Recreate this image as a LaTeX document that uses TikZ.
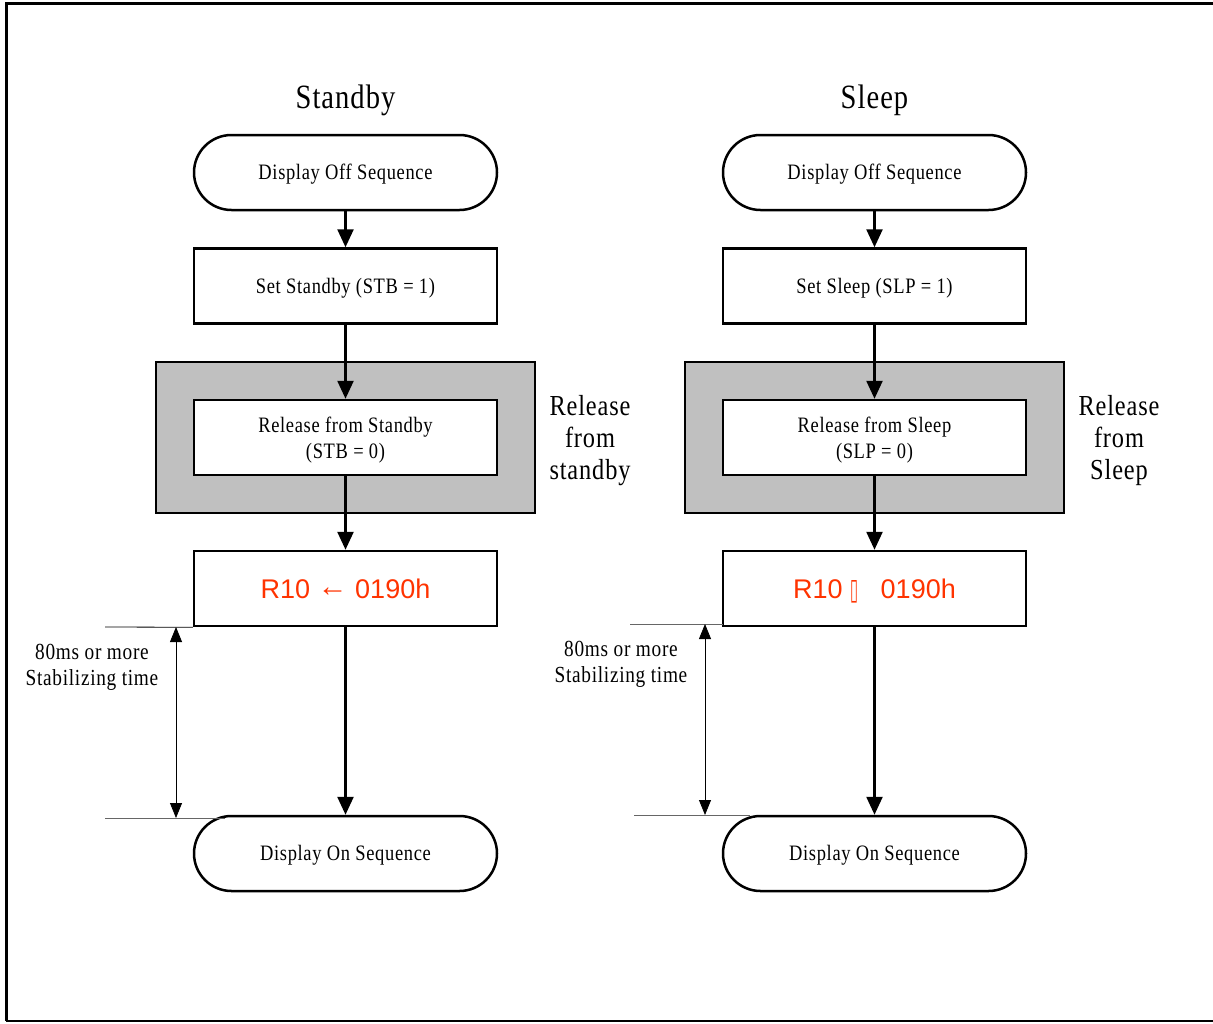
\documentclass[tikz,border=0pt]{standalone}
\usepackage{fontspec}
\usepackage{graphicx}
\setmainfont{Liberation Serif}[FakeStretch=0.84,LetterSpace=3]
\newfontfamily\arialf{Liberation Sans}
\newfontfamily\serifarrow{Liberation Serif}
\newfontfamily\djv{DejaVu Sans}
\usetikzlibrary{shapes.misc,arrows.meta}
\definecolor{redtxt}{RGB}{255,51,0}
\definecolor{grayfill}{RGB}{192,192,192}
\tikzset{
  boxtxt/.style={font=\fontsize{22}{26}\selectfont, align=center},
  boxbase/.style={draw, line width=2.5pt, fill=white, minimum width=303pt, minimum height=75pt, inner sep=0pt, boxtxt},
  termbox/.style={rounded rectangle, boxbase, text height=19pt},
  procbox/.style={rectangle, boxbase, text height=19pt},
  relbox/.style={rectangle, boxbase, text height=47pt, text depth=5pt},
  redbox/.style={rectangle, boxbase, font=\arialf\fontsize{27}{30}\selectfont, text=redtxt, text height=20pt, text depth=0.5pt},
  graybox/.style={rectangle, draw, line width=2.5pt, fill=grayfill, minimum width=379pt, minimum height=151pt, inner sep=0pt},
  flow/.style={line width=2.5pt, -{Triangle[length=18pt,width=16pt]}},
  dimline/.style={line width=0.8pt},
  dimarrow/.style={line width=0.8pt, {Triangle[length=15pt,width=12pt]}-{Triangle[length=15pt,width=12pt]}},
  titletxt/.style={font=\fontsize{34}{38}\selectfont},
  sidetxt/.style={font=\fontsize{29}{32}\selectfont, align=center},
  notetxt/.style={font=\fontsize{23}{26}\selectfont, align=center}
}
\newcommand{\leftarr}{\raisebox{1.5pt}{\serifarrow\fontsize{30}{30}\selectfont ←}}
\newcommand{\tofubox}{\raisebox{-1pt}{\resizebox{8pt}{19pt}{\djv ▯}}}
\begin{document}
\begin{tikzpicture}[x=1pt,y=-1pt]
\useasboundingbox (0,0) rectangle (1213,1023);
% frame
\draw[line width=3pt] (1213,3) -- (6,3) -- (6,1021);
\draw[line width=2pt] (6,1021) -- (1213,1021);

% ---------- Standby column ----------
\node[titletxt] (titleL) at (345.5,100) {Standby};
\node[termbox] (offL) at (345.5,172.5) {Display Off Sequence};
\node[procbox] (setL) at (345.5,286) {Set Standby (STB = 1)};
\node[graybox] (grayL) at (345.5,437.5) {};
\node[relbox] (relL) at (345.5,437.5) {Release from Standby\\(STB = 0)};
\node[redbox] (r10L) at (345.5,588.5) {R10 \leftarr{} 0190h};
\node[termbox] (onL) at (345.5,853.5) {Display On Sequence};
\node[sidetxt] (sideL) at (590,441) {Release\\from\\standby};
\draw[flow] (offL.south) -- (setL.north);
\draw[flow] (setL.south) -- (relL.north);
\draw[flow] (relL.south) -- (r10L.north);
\draw[flow] (r10L.south) -- (onL.north);
% dimension
\coordinate (dtL1) at (105,627);
\coordinate (dbL0) at (225,818);
\coordinate (dbL1) at (105,818);
\coordinate (daL0) at (176,627);
\coordinate (daL1) at (176,818);
\draw[dimline] (r10L.south west) -- (dtL1);
\draw[dimline, black!60] (dbL0) -- (dbL1);
\draw[dimarrow] (daL0) -- (daL1);
\node[notetxt] (noteL) at (92,667) {80ms or more\\Stabilizing time};

% ---------- Sleep column ----------
\node[titletxt] (titleR) at (874.5,100) {Sleep};
\node[termbox] (offR) at (874.5,172.5) {Display Off Sequence};
\node[procbox] (setR) at (874.5,286) {Set Sleep (SLP = 1)};
\node[graybox] (grayR) at (874.5,437.5) {};
\node[relbox] (relR) at (874.5,437.5) {Release from Sleep\\(SLP = 0)};
\node[redbox] (r10R) at (874.5,588.5) {R10 \tofubox\ \ \ 0190h};
\node[termbox] (onR) at (874.5,853.5) {Display On Sequence};
\node[sidetxt] (sideR) at (1119,441) {Release\\from\\Sleep};
\draw[flow] (offR.south) -- (setR.north);
\draw[flow] (setR.south) -- (relR.north);
\draw[flow] (relR.south) -- (r10R.north);
\draw[flow] (r10R.south) -- (onR.north);
\coordinate (dtR0) at (723,624);
\coordinate (dtR1) at (630,624);
\coordinate (dbR0) at (750,815);
\coordinate (dbR1) at (634,815);
\coordinate (daR0) at (705,624);
\coordinate (daR1) at (705,815);
\draw[dimline, black!60] (dtR0) -- (dtR1);
\draw[dimline, black!60] (dbR0) -- (dbR1);
\draw[dimarrow] (daR0) -- (daR1);
\node[notetxt] (noteR) at (621,664) {80ms or more\\Stabilizing time};
\end{tikzpicture}
\end{document}
